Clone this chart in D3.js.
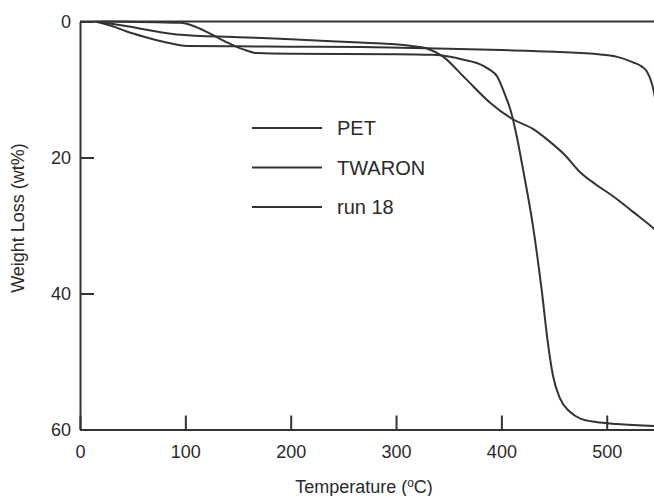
<!DOCTYPE html>
<html>
<head>
<meta charset="utf-8">
<script src="https://cdn.jsdelivr.net/npm/d3@7/dist/d3.min.js"></script>
<style>
  body { margin: 0; background: #fff; }
  svg { display: block; font-family: "Liberation Sans", Arial, sans-serif; }
  .tick text { fill: #2a2a2a; }
</style>
</head>
<body>
<svg width="654" height="496"></svg>
<script>
// TGA curves: temperature (°C) and weight loss (wt%)
const petT = [20, 95, 110, 125, 140, 155, 168, 200, 300, 335, 350, 361, 372, 380, 388, 396, 403, 409, 415, 420.5, 430, 438.5, 444, 449, 455.5, 465, 475, 490, 510, 550];
const petW = [0, 0.2, 0.8, 1.9, 3.1, 4.1, 4.65, 4.75, 4.8, 4.9, 5.15, 5.5, 5.9, 6.3, 7.0, 8.1, 10.6, 13.2, 17.2, 21.7, 30.1, 39.8, 47.1, 52.1, 55.4, 57.4, 58.4, 58.9, 59.2, 59.5];

const twaronT = [14, 31, 45, 60, 80, 102, 150, 200, 266, 304, 350, 400, 450, 494, 510, 525, 533, 538, 543, 550];
const twaronW = [0, 0.7, 1.5, 2.2, 3.0, 3.6, 3.65, 3.7, 3.75, 3.86, 4.0, 4.2, 4.45, 4.84, 5.2, 6.0, 6.6, 7.3, 9.2, 15];

const run18T = [16, 45, 92, 150, 200, 266, 294, 315, 330, 344, 366, 389, 410, 430, 443, 460, 475, 490, 506, 525, 545, 550];
const run18W = [0, 0.7, 1.9, 2.3, 2.6, 3.1, 3.3, 3.6, 4.0, 5.1, 8.4, 11.9, 14.3, 15.8, 17.3, 19.6, 22.2, 24.0, 25.7, 28.0, 30.5, 31.2];

const seriesNames = ["PET", "TWARON", "run 18"];
const xTicks = [0, 100, 200, 300, 400, 500];
const yTicks = [0, 20, 40, 60];

const series = [
    { name: seriesNames[0], pts: petT.map((t, i) => [t, petW[i]]) },
    { name: seriesNames[1], pts: twaronT.map((t, i) => [t, twaronW[i]]) },
    { name: seriesNames[2], pts: run18T.map((t, i) => [t, run18W[i]]) }
];

const svg = d3.select("svg");
const ink = "#333";

const x = d3.scaleLinear().domain([0, 550]).range([80, 659.4]);
const y = d3.scaleLinear().domain([0, 60]).range([21.5, 429.5]);

// top border line at 0
svg.append("line")
    .attr("x1", x(0)).attr("x2", 660)
    .attr("y1", y(0)).attr("y2", y(0))
    .attr("stroke", ink).attr("stroke-width", 2);

// x axis (ticks point inward)
const xAxis = svg.append("g")
    .attr("transform", `translate(0,${y(60)})`)
    .call(d3.axisBottom(x).tickValues(xTicks).tickSizeInner(-14).tickSizeOuter(0).tickPadding(16));

// y axis
const yAxis = svg.append("g")
    .attr("transform", `translate(${x(0)},0)`)
    .call(d3.axisLeft(y).tickValues(yTicks).tickSizeInner(-14).tickSizeOuter(0).tickPadding(9));

[xAxis, yAxis].forEach(g => {
    g.select(".domain").attr("stroke", ink).attr("stroke-width", 2);
    g.selectAll(".tick line").attr("stroke", ink).attr("stroke-width", 2);
    g.selectAll(".tick text").attr("font-size", 18).attr("font-family", "Liberation Sans, Arial, sans-serif");
});

// curves
const line = d3.line()
    .x(d => x(d[0]))
    .y(d => y(d[1]))
    .curve(d3.curveMonotoneX);

svg.selectAll(".curve")
    .data(series)
    .enter().append("path")
    .attr("class", "curve")
    .attr("d", d => line(d.pts))
    .attr("fill", "none")
    .attr("stroke", ink)
    .attr("stroke-width", 2);

// legend
const legend = svg.selectAll(".legend")
    .data(series)
    .enter().append("g")
    .attr("class", "legend")
    .attr("transform", (d, i) => `translate(252,${128 + i * 39.5})`);

legend.append("line")
    .attr("x1", 0).attr("x2", 70)
    .attr("stroke", ink).attr("stroke-width", 2);

legend.append("text")
    .attr("x", 85)
    .attr("dy", "0.35em")
    .attr("font-size", 20)
    .attr("fill", "#2a2a2a")
    .text(d => d.name);

// axis titles
const xt = svg.append("text")
    .attr("x", 364).attr("y", 493)
    .attr("text-anchor", "middle")
    .attr("font-size", 18)
    .attr("fill", "#2a2a2a");
xt.append("tspan").text("Temperature (");
xt.append("tspan").attr("font-size", 12).attr("dy", -6).text("o");
xt.append("tspan").attr("dy", 6).text("C)");

svg.append("text")
    .attr("transform", "translate(24,218) rotate(-90)")
    .attr("text-anchor", "middle")
    .attr("font-size", 18)
    .attr("fill", "#2a2a2a")
    .text("Weight Loss (wt%)");
</script>
</body>
</html>
